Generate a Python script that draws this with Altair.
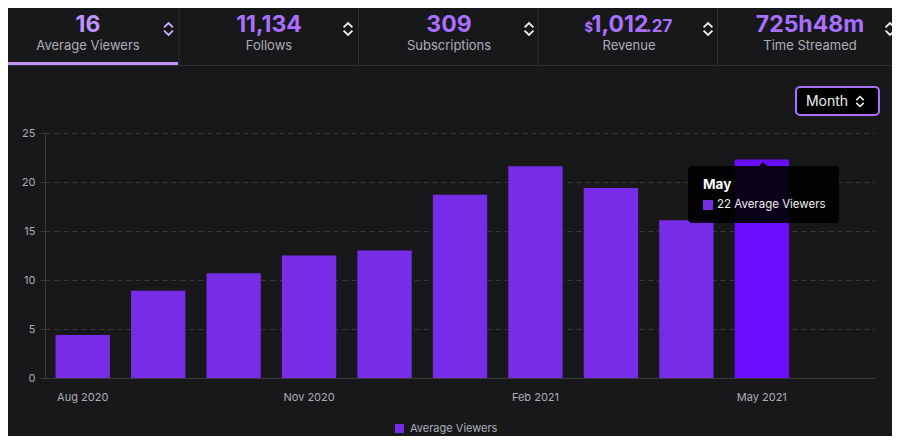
import altair as alt
import pandas as pd

# ---------------- data ----------------
months = ["Aug 2020", "Sep 2020", "Oct 2020", "Nov 2020", "Dec 2020", "Jan 2021",
          "Feb 2021", "Mar 2021", "Apr 2021", "May 2021", "Jun 2021"]
viewers = [4.4, 8.9, 10.7, 12.5, 13.0, 18.7, 21.6, 19.4, 16.1, 22.3]
series_name = "Average Viewers"
tick_months = ["Aug 2020", "Nov 2020", "Feb 2021", "May 2021"]
y_ticks = [0, 5, 10, 15, 20, 25]
highlight_month = "May 2021"

stat_labels = ["Average Viewers", "Follows", "Subscriptions", "Revenue", "Time Streamed"]
stat_values = ["16", "11,134", "309", "1,012", "725h48m"]
revenue_prefix = "$"
revenue_cents = ".27"
period_label = "Month"

# ---------------- styles ----------------
BG = "#18181b"
LINE = "#2f2f35"
GRID = "#3a3a3d"
LABEL = "#adadb8"
PURPLE = "#772ce8"
HILITE = "#6a0dff"
ACCENT = "#a970ff"
ACCENT_LIGHT = "#bf94ff"
FONT = "Inter"

OX, OY = 45, 133  # plot origin in page coordinates


def px(x):
    return x - OX


def py(y):
    return y - OY


def one_row(v="x"):
    return pd.DataFrame({"t": [v]})


def text_layer(txt, x, y, **kw):
    return alt.Chart(one_row(txt)).mark_text(font=FONT, **kw).encode(
        x=alt.value(px(x)), y=alt.value(py(y)), text="t:N")


def rect_layer(x1, x2, y1, y2, **kw):
    return alt.Chart(one_row()).mark_rect(**kw).encode(
        x=alt.value(px(x1)), x2=alt.value(px(x2)),
        y=alt.value(py(y1)), y2=alt.value(py(y2)))


def rule_layer(x1, x2, y1, y2, color, width=1):
    return alt.Chart(one_row()).mark_rule(color=color, strokeWidth=width).encode(
        x=alt.value(px(x1)), x2=alt.value(px(x2)),
        y=alt.value(py(y1)), y2=alt.value(py(y2)))


CHEV = "M-0.7,-0.25L0,-0.95L0.7,-0.25M-0.7,0.25L0,0.95L0.7,0.25"
ARROW = "M-1,0.5L0,-0.5L1,0.5Z"


def symbol_layer(shape, x, y, size, **kw):
    return alt.Chart(one_row()).mark_point(shape=shape, size=size, **kw).encode(
        x=alt.value(px(x)), y=alt.value(py(y)))


# ---------------- bars ----------------
df = pd.DataFrame({"month": months[:len(viewers)], "viewers": viewers,
                   "series": [series_name] * len(viewers)})

bars = alt.Chart(df).mark_bar().encode(
    x=alt.X("month:N", sort=months,
            scale=alt.Scale(domain=months, paddingInner=0.28, paddingOuter=0.14),
            axis=alt.Axis(values=tick_months, labelAngle=0, ticks=False, title=None,
                          domainColor=GRID, labelColor=LABEL, labelFontSize=11,
                          labelPadding=13, labelFont=FONT, grid=False)),
    y=alt.Y("viewers:Q", scale=alt.Scale(domain=[0, 25], nice=False),
            axis=alt.Axis(values=y_ticks, title=None, grid=True, gridDash=[5, 4],
                          gridColor=GRID, domainColor=GRID, tickColor=GRID,
                          tickSize=5, labelPadding=5, labelColor=LABEL,
                          labelFontSize=11, labelFont=FONT)),
    color=alt.condition(
        alt.datum.month == highlight_month,
        alt.value(HILITE),
        alt.Color("series:N", scale=alt.Scale(range=[PURPLE]),
                  legend=alt.Legend(title=None, orient="none", legendX=px(394),
                                    legendY=py(423), symbolType="square",
                                    symbolSize=80, symbolStrokeWidth=0,
                                    labelColor=LABEL, labelFontSize=11,
                                    labelFont=FONT, padding=0, labelOffset=5)))
)

layers = [bars]

# ---------------- top stats bar ----------------
centers = [88, 269, 449, 629, 810]
chev_x = [168.5, 348, 529, 708, 890]
layers.append(rule_layer(8, 892, 65.5, 65.5, LINE))
for sx in [179, 358.5, 538, 717.5]:
    layers.append(rule_layer(sx, sx, 8, 65, LINE))
layers.append(rect_layer(8, 178, 62, 65, fill=ACCENT_LIGHT))

for i, (lab, val) in enumerate(zip(stat_labels, stat_values)):
    color = ACCENT_LIGHT if i == 0 else ACCENT
    if i == 3:
        layers.append(text_layer(val, 620, 31.5, align="center", baseline="alphabetic",
                                 fontSize=23, fontWeight="bold", color=color))
        layers.append(text_layer(revenue_prefix, 593, 31.5, align="right",
                                 baseline="alphabetic", fontSize=13,
                                 fontWeight="bold", color=color))
        layers.append(text_layer(revenue_cents, 646, 31.5, align="left",
                                 baseline="alphabetic", fontSize=17,
                                 fontWeight="bold", color=color))
    else:
        layers.append(text_layer(val, centers[i], 31.5, align="center",
                                 baseline="alphabetic", fontSize=23,
                                 fontWeight="bold", color=color))
    layers.append(text_layer(lab, centers[i], 45.5, align="center", baseline="middle",
                             fontSize=13, color=LABEL))
    layers.append(symbol_layer(CHEV, chev_x[i], 29, 160, filled=False,
                               strokeWidth=1.8,
                               color="#cdb0ff" if i == 0 else "#efeff1",
                               opacity=1))

# ---------------- Month selector ----------------
layers.append(rect_layer(796, 879, 87, 115, fill="#000000", stroke=ACCENT,
                         strokeWidth=2, cornerRadius=4))
layers.append(text_layer(period_label, 827, 101.5, align="center", baseline="middle",
                         fontSize=14, color="#efeff1"))
layers.append(symbol_layer(CHEV, 860, 101.5, 110, filled=False, strokeWidth=1.6,
                           color="#efeff1", opacity=1))

# ---------------- tooltip ----------------
tip_title = highlight_month.split(" ")[0]
tip_value = f"{round(viewers[months.index(highlight_month)])} {series_name}"
layers.append(rect_layer(688, 839, 166, 223, fill="#000000", fillOpacity=0.9,
                         cornerRadius=4))
layers.append(symbol_layer(ARROW, 763, 164, 64, filled=True, color="#000000",
                           fillOpacity=0.9, strokeWidth=0))
layers.append(text_layer(tip_title, 703, 185, align="left", baseline="middle",
                         fontSize=13.5, fontWeight="bold", color="#ffffff"))
layers.append(alt.Chart(one_row()).mark_square(size=100, color=PURPLE, opacity=1).encode(
    x=alt.value(px(708)), y=alt.value(py(205))))
layers.append(text_layer(tip_value, 717, 205, align="left", baseline="middle",
                         fontSize=11.5, color="#efeff1"))

chart = alt.layer(*layers).properties(
    width=830, height=245,
    padding={"left": 37, "top": 125, "right": 17, "bottom": 58},
    autosize=alt.AutoSizeParams(type="none"),
    background=BG,
).configure(font=FONT).configure_view(stroke="transparent", strokeWidth=0)

chart.save("out.html", embed_options={"renderer": "svg", "actions": False})
